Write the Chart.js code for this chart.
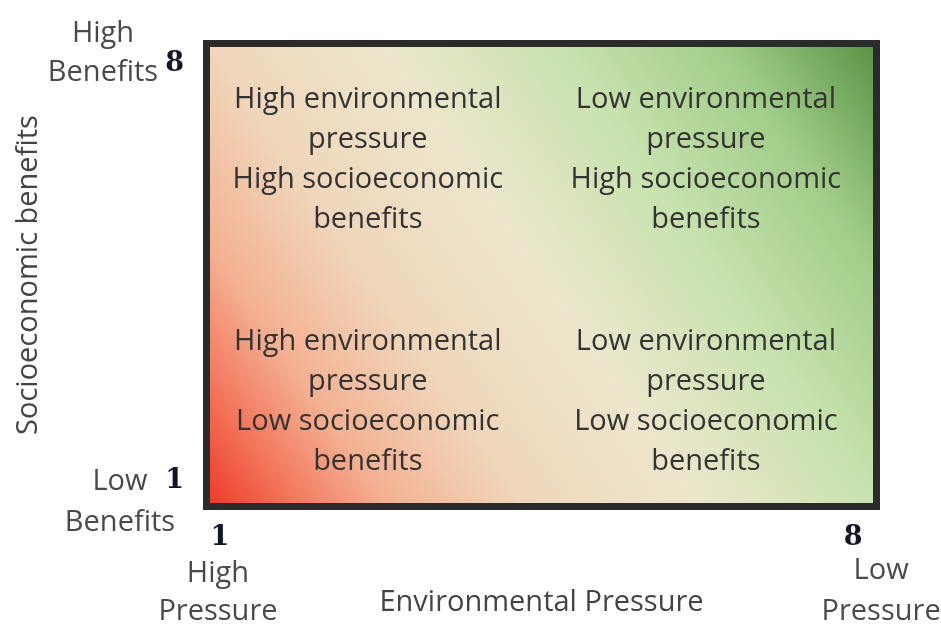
<!DOCTYPE html>
<html>
<head>
<meta charset="utf-8">
<script src="https://cdn.jsdelivr.net/npm/chart.js@4"></script>
<style>
  html, body { margin: 0; padding: 0; background: #ffffff; }
  #box { width: 941px; height: 626px; }
</style>
</head>
<body>
<div id="box"><canvas id="myChart" width="941" height="626"></canvas></div>
<script>
// axis ticks (only the two ends are labelled)
const xTicks = [1, 8];
const yTicks = [1, 8];
const xRange = [0.89, 8.22];
const yRange = [0.63, 8.29];

// texts
const xTitle = 'Environmental Pressure';
const yTitle = 'Socioeconomic benefits';
const xEndLabels = [['High', 'Pressure'], ['Low', 'Pressure']];
const yEndLabels = [['Low', 'Benefits'], ['High', 'Benefits']];

// quadrant texts: top-left, top-right, bottom-left, bottom-right
const quadrantLabels = [
    ['High environmental', 'pressure', 'High socioeconomic', 'benefits'],
    ['Low environmental', 'pressure', 'High socioeconomic', 'benefits'],
    ['High environmental', 'pressure', 'Low socioeconomic', 'benefits'],
    ['Low environmental', 'pressure', 'Low socioeconomic', 'benefits']
];

const sansFont = '"Open Sans", "DejaVu Sans", sans-serif';

//Fond en dégradé + cadre + textes
const quadrantPlugin = {
    id: 'quadrants',
    beforeDraw(chart) {
        const ctx = chart.ctx;
        const a = chart.chartArea;
        ctx.save();
        let g = ctx.createLinearGradient(a.left, a.bottom, a.right, a.top);
        g.addColorStop(0, '#ee3b2a');
        g.addColorStop(0.08, '#f27258');
        g.addColorStop(0.18, '#f4b092');
        g.addColorStop(0.32, '#f0d6ba');
        g.addColorStop(0.5, '#ece6cc');
        g.addColorStop(0.68, '#c8e2ae');
        g.addColorStop(0.85, '#a0cc88');
        g.addColorStop(1, '#5a9446');
        ctx.fillStyle = g;
        ctx.fillRect(a.left, a.top, a.right - a.left, a.bottom - a.top);
        ctx.restore();
    },
    afterDraw(chart) {
        const ctx = chart.ctx;
        const a = chart.chartArea;
        const w = a.right - a.left;
        const h = a.bottom - a.top;
        ctx.save();

        // cadre épais
        ctx.strokeStyle = '#2b2b2b';
        ctx.lineWidth = 7;
        ctx.strokeRect(a.left - 3.5, a.top - 3.5, w + 7, h + 7);

        // textes des quadrants
        ctx.fillStyle = '#333333';
        ctx.font = '29px ' + sansFont;
        ctx.textAlign = 'center';
        ctx.textBaseline = 'middle';
        const cx = [0.238, 0.748];
        const cy = [0.248, 0.778];
        quadrantLabels.forEach(function (lines, i) {
            let x = a.left + w * cx[i % 2];
            let y = a.top + h * cy[Math.floor(i / 2)];
            lines.forEach(function (line, j) {
                ctx.fillText(line, x, y + (j - 1.5) * 40);
            });
        });

        // libellés aux extrémités des axes
        const xs = chart.scales.x;
        const ys = chart.scales.y;
        ctx.fillStyle = '#4a4a4a';
        let p;
        p = xs.getPixelForValue(xTicks[0]);
        ctx.fillText(xEndLabels[0][0], p - 2, 574);
        ctx.fillText(xEndLabels[0][1], p - 2, 612);
        p = xs.getPixelForValue(xTicks[1]);
        ctx.fillText(xEndLabels[1][0], p + 28, 571);
        ctx.fillText(xEndLabels[1][1], p + 28, 612);
        p = ys.getPixelForValue(yTicks[0]);
        ctx.fillText(yEndLabels[0][0], 120, p + 1);
        ctx.fillText(yEndLabels[0][1], 120, p + 42);
        p = ys.getPixelForValue(yTicks[1]);
        ctx.fillText(yEndLabels[1][0], 103, p - 31);
        ctx.fillText(yEndLabels[1][1], 103, p + 8);

        ctx.restore();
    }
};

const tickFont = { family: '"DejaVu Serif", serif', size: 27, weight: 'bold' };
const titleFont = { family: sansFont, size: 29 };

const ctx = document.getElementById('myChart').getContext('2d');
const myChart = new Chart(ctx, {
    type: 'scatter',
    data: { datasets: [] },
    plugins: [quadrantPlugin],
    options: {
        responsive: false,
        animation: false,
        layout: { padding: { top: 47, right: 68, left: 0, bottom: 0 } },
        plugins: { legend: { display: false }, tooltip: { enabled: false } },
        scales: {
            x: {
                type: 'linear',
                min: xRange[0],
                max: xRange[1],
                afterBuildTicks: (scale) => { scale.ticks = xTicks.map(v => ({ value: v })); },
                afterFit: (scale) => { scale.height = 123; },
                grid: { display: false, drawTicks: false },
                border: { display: false },
                ticks: { font: tickFont, color: '#15152a', padding: 19, maxRotation: 0, autoSkip: false },
                title: { display: true, text: xTitle, font: titleFont, color: '#444444', padding: { top: 0, bottom: 6 } }
            },
            y: {
                type: 'linear',
                min: yRange[0],
                max: yRange[1],
                afterBuildTicks: (scale) => { scale.ticks = yTicks.map(v => ({ value: v })); },
                afterFit: (scale) => { scale.width = 210; },
                grid: { display: false, drawTicks: false },
                border: { display: false },
                ticks: { font: tickFont, color: '#15152a', padding: 26, autoSkip: false },
                title: { display: true, text: yTitle, font: titleFont, color: '#444444', padding: { top: 11, bottom: 0 } }
            }
        }
    }
});
</script>
</body>
</html>
